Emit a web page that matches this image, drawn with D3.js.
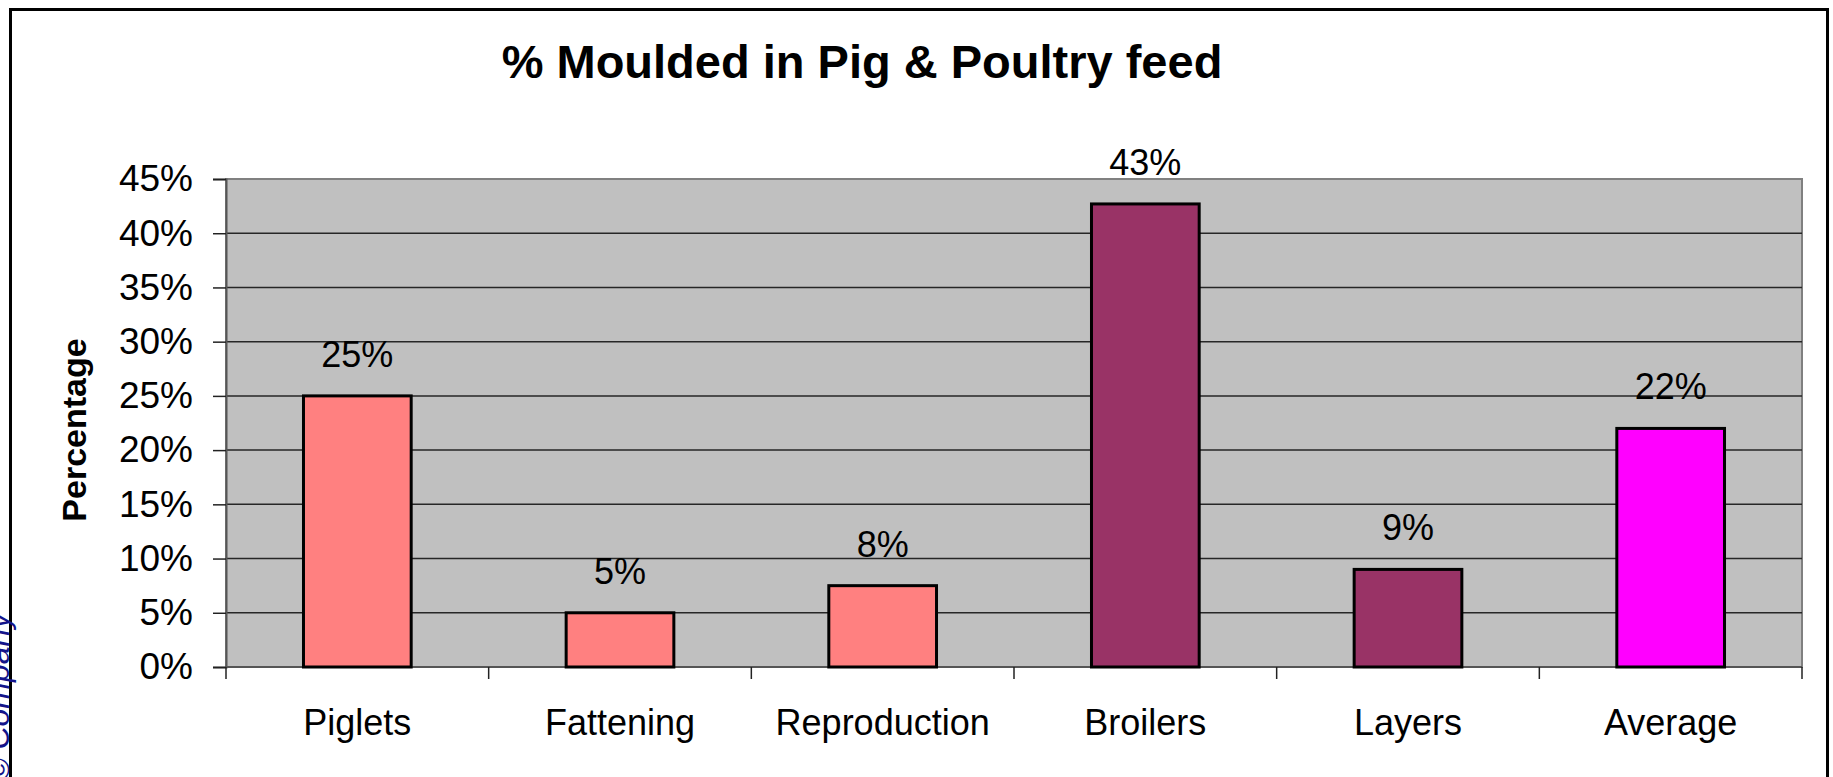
<!DOCTYPE html>
<html lang="en">
<head>
  <meta charset="UTF-8">
  <title>% Moulded in Pig & Poultry feed</title>
  <style>
    html, body { margin: 0; padding: 0; background: #fff; overflow: hidden; }
    text { font-family: Arial, "Liberation Sans", sans-serif; }
  </style>
</head>
<body>
  <svg id="chart" width="1833" height="777"></svg>
  <script src="https://d3js.org/d3.v7.min.js"></script>
  <script>
    // data (percent)
    var categories = ["Piglets", "Fattening", "Reproduction", "Broilers", "Layers", "Average"];
    var values = [25, 5, 7.5, 42.7, 9, 22];
    var barColors = ["#FF8080", "#FF8080", "#FF8080", "#993366", "#993366", "#FF00FF"];
    var yTicks = [0, 5, 10, 15, 20, 25, 30, 35, 40, 45];

    var svg = d3.select("#chart");
    var plot = {left: 226, right: 1802, top: 179, bottom: 667};

    // outer frame
    svg.append("rect")
      .attr("x", 10.5).attr("y", 9.5)
      .attr("width", 1817).attr("height", 790)
      .attr("fill", "none")
      .attr("stroke", "#000")
      .attr("stroke-width", 3);

    // copyright text, half hidden on the left edge like in the source slide
    svg.append("text")
      .attr("transform", "translate(9,782) rotate(-90)")
      .attr("font-size", 32)
      .attr("font-style", "italic")
      .attr("fill", "#14148a")
      .text("© Company");

    var x = d3.scaleBand()
      .domain(categories)
      .range([plot.left, plot.right])
      .padding(0);

    var y = d3.scaleLinear()
      .domain([0, 45])
      .range([plot.bottom, plot.top]);

    // plot area
    svg.append("rect")
      .attr("x", plot.left).attr("y", plot.top)
      .attr("width", plot.right - plot.left)
      .attr("height", plot.bottom - plot.top)
      .attr("fill", "#C0C0C0")
      .attr("stroke", "#808080")
      .attr("stroke-width", 2);

    // gridlines
    svg.append("g")
      .selectAll("line")
      .data(yTicks.filter(d => d > 0 && d < 45))
      .enter()
      .append("line")
      .attr("x1", plot.left).attr("x2", plot.right)
      .attr("y1", d => y(d)).attr("y2", d => y(d))
      .attr("stroke", "#262626")
      .attr("stroke-width", 1.5);

    // y axis
    var yAxis = svg.append("g")
      .attr("transform", "translate(" + plot.left + ",0)")
      .call(d3.axisLeft(y).tickValues(yTicks).tickSize(13).tickPadding(20).tickFormat(d => d + "%"));
    yAxis.select(".domain").attr("stroke", "#555").attr("stroke-width", 2);
    yAxis.selectAll(".tick line").attr("stroke", "#222").attr("stroke-width", 1.5);
    yAxis.selectAll("text")
      .attr("font-size", 37)
      .attr("fill", "#000")
      .attr("font-family", "Arial, 'Liberation Sans', sans-serif");

    // x axis: line + ticks at category boundaries
    var xAxis = svg.append("g");
    xAxis.append("line")
      .attr("x1", plot.left).attr("x2", plot.right)
      .attr("y1", plot.bottom).attr("y2", plot.bottom)
      .attr("stroke", "#555").attr("stroke-width", 2);
    xAxis.selectAll("line.bound")
      .data(d3.range(categories.length + 1))
      .enter()
      .append("line")
      .attr("class", "bound")
      .attr("x1", i => plot.left + i * x.step())
      .attr("x2", i => plot.left + i * x.step())
      .attr("y1", plot.bottom).attr("y2", plot.bottom + 12)
      .attr("stroke", "#222").attr("stroke-width", 1.5);
    xAxis.selectAll("text")
      .data(categories)
      .enter()
      .append("text")
      .attr("x", d => x(d) + x.bandwidth() / 2)
      .attr("y", 735)
      .attr("text-anchor", "middle")
      .attr("font-size", 36)
      .text(d => d);

    // bars
    var barW = x.bandwidth() * 0.41;
    svg.append("g")
      .selectAll("rect")
      .data(categories)
      .enter()
      .append("rect")
      .attr("x", (d, i) => x(d) + (x.bandwidth() - barW) / 2)
      .attr("y", (d, i) => y(values[i]))
      .attr("width", barW)
      .attr("height", (d, i) => y(0) - y(values[i]))
      .attr("fill", (d, i) => barColors[i])
      .attr("stroke", "#000")
      .attr("stroke-width", 3);

    // value labels
    svg.append("g")
      .selectAll("text")
      .data(categories)
      .enter()
      .append("text")
      .attr("x", d => x(d) + x.bandwidth() / 2)
      .attr("y", (d, i) => y(values[i]) - 29)
      .attr("text-anchor", "middle")
      .attr("font-size", 36)
      .text((d, i) => Math.round(values[i]) + "%");

    // titles
    svg.append("text")
      .attr("x", 862).attr("y", 78)
      .attr("text-anchor", "middle")
      .attr("font-size", 47)
      .attr("font-weight", "bold")
      .text("% Moulded in Pig & Poultry feed");

    svg.append("text")
      .attr("transform", "translate(86,430) rotate(-90)")
      .attr("text-anchor", "middle")
      .attr("font-size", 34)
      .attr("font-weight", "bold")
      .text("Percentage");
  </script>
</body>
</html>
